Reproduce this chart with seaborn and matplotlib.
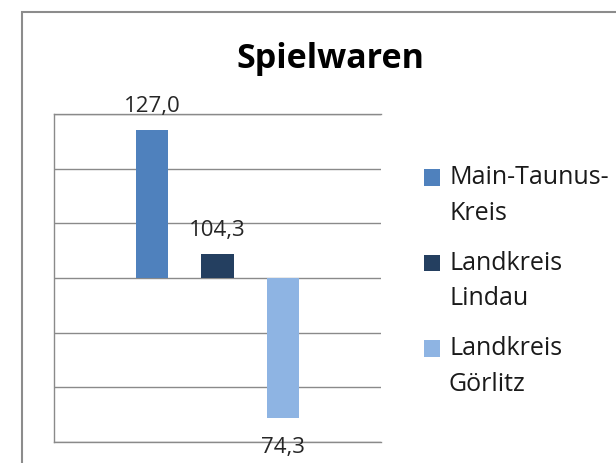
import pandas as pd
import matplotlib.pyplot as plt
import seaborn as sns
from matplotlib.patches import Rectangle, Patch
from matplotlib.legend_handler import HandlerPatch

# Data (index values, base = 100)
kreise = ["Main-Taunus-Kreis", "Landkreis Lindau", "Landkreis Görlitz"]
legend_labels = ["Main-Taunus-\nKreis", "Landkreis\nLindau", "Landkreis\nGörlitz"]
werte = [127.0, 104.3, 74.3]
farben = ["#4F81BD", "#243F60", "#8EB4E3"]
basis = 100
yticks = [-30, -20, -10, 0, 10, 20, 30]

df = pd.DataFrame({"Gruppe": [""] * len(kreise), "Kreis": kreise, "Index": werte})
df["Abw"] = df["Index"] - basis


class SquareFirstLine(HandlerPatch):
    # small square sitting on the first line of a two-line label
    def create_artists(self, legend, orig_handle, xdescent, ydescent,
                       width, height, fontsize, trans):
        size = 0.66 * fontsize
        p = Rectangle((-xdescent, 0.78 * fontsize), size, size,
                      facecolor=orig_handle.get_facecolor(), edgecolor="none",
                      transform=trans)
        return [p]


sns.set_style("white")
plt.rcParams["font.family"] = ["Open Sans", "DejaVu Sans"]

fig = plt.figure(figsize=(6.16, 4.63), dpi=100)
ax = fig.add_axes([54 / 616, 21 / 463, 327 / 616, 328 / 463])

sns.barplot(data=df, x="Gruppe", y="Abw", hue="Kreis", hue_order=kreise,
            palette=farben, width=0.6, gap=0.5, saturation=1, ax=ax,
            errorbar=None, linewidth=0)

ax.set_ylim(-30, 30)
ax.set_xlim(-0.5, 0.5)
ax.set_yticks(yticks)
ax.set_xticks([])
ax.set_yticklabels([])
ax.tick_params(left=False, bottom=False)
ax.set_xlabel("")
ax.set_ylabel("")
ax.grid(axis="y", color="#8a8a8a", linewidth=1.0)
ax.set_axisbelow(True)
for side in ["left", "top", "bottom"]:
    ax.spines[side].set_color("#8a8a8a")
    ax.spines[side].set_linewidth(1.0)
ax.spines["right"].set_visible(False)

# data labels
for cont, v in zip(ax.containers, werte):
    pad = 10 if v >= basis else 13
    ax.bar_label(cont, labels=[f"{v:.1f}".replace(".", ",")], padding=pad,
                 fontsize=16, color="#262626")

# legend
handles, _ = ax.get_legend_handles_labels()
leg = ax.legend(handles, legend_labels, loc="upper left",
                bbox_to_anchor=(401 / 616, 1 - 143 / 463),
                bbox_transform=fig.transFigure, frameon=False,
                fontsize=18, labelspacing=1.0, handlelength=0.72,
                handleheight=0.7, handletextpad=0.3, borderpad=0.4,
                handler_map={Patch: SquareFirstLine()})
for t in leg.get_texts():
    t.set_linespacing(1.55)
    t.set_color("#1a1a1a")

# title
fig.text(330 / 616, 1 - 68 / 463, "Spielwaren", ha="center", va="baseline",
         fontsize=24.5, fontweight="bold", color="#000000")

# outer chart border
fig.patches.append(Rectangle((22 / 616, -0.1), 1.0, 1.1 - 12 / 463, fill=False,
                             edgecolor="#8c8c8c", linewidth=1.5,
                             transform=fig.transFigure, figure=fig))

plt.savefig("out.png", dpi=100)
